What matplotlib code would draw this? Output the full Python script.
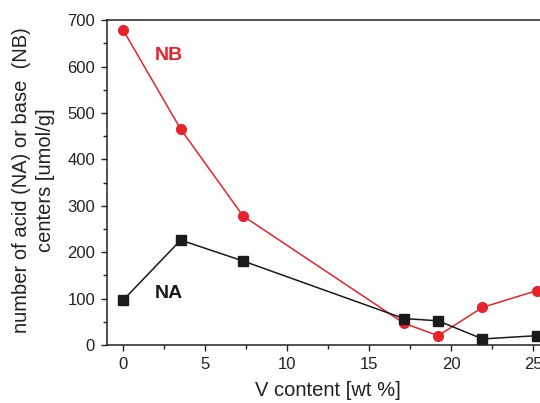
import matplotlib.pyplot as plt
from matplotlib.ticker import MultipleLocator

plt.rcParams['font.family'] = ['Liberation Sans', 'DejaVu Sans']

# === DATA ===
v_content = [0, 3.5, 7.3, 17.1, 19.2, 21.9, 25.2]
nb_values = [678, 465, 278, 47, 20, 81, 117]
na_values = [97, 226, 181, 57, 52, 13, 20]

red = '#e5232b'
black = '#1a1a1a'

fig = plt.figure(figsize=(5.4, 4.03), dpi=100)
ax = fig.add_axes([0.198, 0.144, 0.82, 0.806])

ax.plot(v_content, nb_values, color=red, marker='o', markersize=7, linewidth=1.1)
ax.plot(v_content, na_values, color=black, marker='s', markersize=6.5, linewidth=1.1)

ax.text(2.75, 624, 'NB', color=red, fontsize=14, fontweight='bold', ha='center', va='center')
ax.text(2.75, 110, 'NA', color=black, fontsize=14, fontweight='bold', ha='center', va='center')

ax.set_xlim(-1, 26)
ax.set_ylim(0, 700)
ax.xaxis.set_major_locator(MultipleLocator(5))
ax.xaxis.set_minor_locator(MultipleLocator(2.5))
ax.yaxis.set_major_locator(MultipleLocator(100))
ax.yaxis.set_minor_locator(MultipleLocator(50))
ax.tick_params(which='both', direction='out', width=1, colors='#222222', labelsize=12)
ax.tick_params(which='major', length=4.5, pad=4)
ax.tick_params(which='minor', length=3)
for s in ax.spines.values():
    s.set_linewidth(1.1)
    s.set_color('#222222')

ax.set_xlabel('V content [wt %]', fontsize=14.5, labelpad=7, color='#222222')
fig.text(0.062, 0.553, 'number of acid (NA) or base  (NB)\ncenters [umol/g]',
         rotation=90, ha='center', va='center', fontsize=14.5, linespacing=1.3,
         color='#222222', multialignment='center')

plt.savefig('out.png', dpi=100)
